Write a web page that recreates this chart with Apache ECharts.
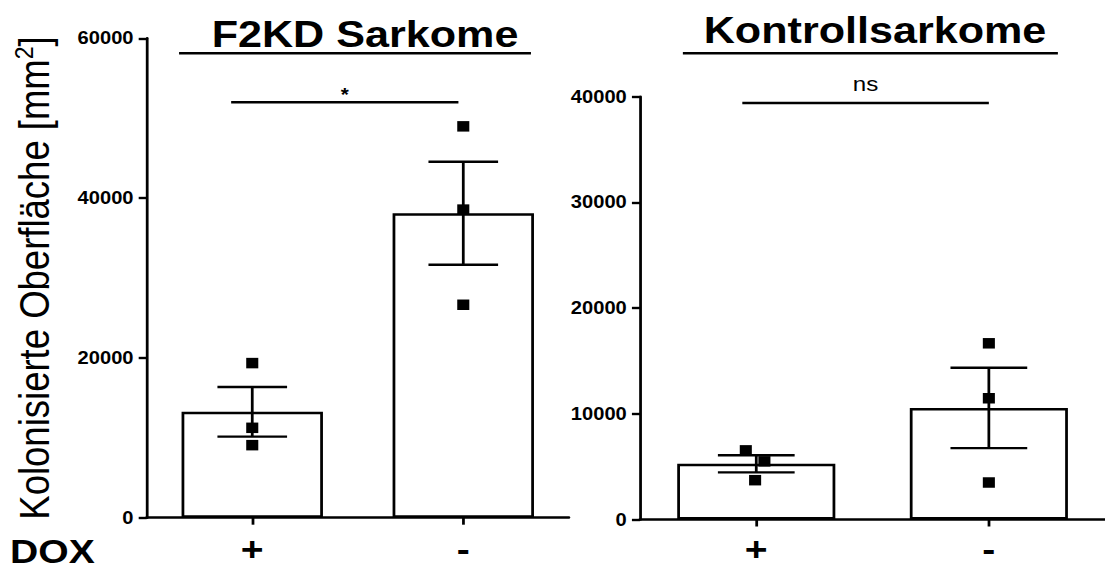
<!DOCTYPE html>
<html>
<head>
<meta charset="utf-8">
<script src="https://cdn.jsdelivr.net/npm/echarts@6/dist/echarts.min.js"></script>
<style>
  html, body { margin: 0; padding: 0; background: #fff; overflow: hidden; width: 1105px; height: 569px; }
  /* the figure is laid out narrow and widened horizontally */
  #chart { width: 961px; height: 569px; transform: scaleX(1.15); transform-origin: 0 0; }
</style>
</head>
<body>
<div id="chart"></div>
<script>
// DOX groups (x positions 0 and 1 on each panel)
const groups = ['+', '-'];

// F2KD sarcomas: mean, SEM and single animals
const f2kdMean = [13250, 38100];
const f2kdSem = [3100, 6450];
const f2kdPoints = [[0, 19350], [0, 11250], [0, 9080], [1, 48980], [1, 38560], [1, 26650]];
const f2kdBracket = [-0.1, 0.977, 52000];
const f2kdStar = '*';

// control sarcomas
const ctrlMean = [5270, 10550];
const ctrlSem = [810, 3800];
const ctrlPoints = [[-0.045, 6540], [0.035, 5500], [-0.005, 3720], [1, 16670], [1, 11470], [1, 3500]];
const ctrlBracket = [-0.06, 1.0, 39400];
const ctrlStar = 'ns';

// y axis ranges
const f2kdAxis = [0, 60000, 20000];
const ctrlAxis = [0, 40000, 10000];

const FONT = '"Liberation Sans", Arial, Helvetica, sans-serif';
const BLACK = '#000';

const leftGrid = { left: 127.6, top: 38.3, width: 367, height: 479.4 };
const rightGrid = { left: 556.5, top: 96.7, width: 410.4, height: 422.8 };
const BAR_FRACTION = 0.67;
const CAP_FRACTION = 0.33;
const GROUP_LABEL_Y = 549.5;

function errRender(params, api) {
  const x = api.value(0), m = api.value(1), s = api.value(2);
  const hi = api.coord([x, m + s]);
  const lo = api.coord([x, m - s]);
  const half = api.size([CAP_FRACTION, 0])[0] / 2;
  const st = { stroke: BLACK, lineWidth: 2.4 };
  return {
    type: 'group',
    children: [
      { type: 'line', shape: { x1: hi[0], y1: hi[1], x2: lo[0], y2: lo[1] }, style: st },
      { type: 'line', shape: { x1: hi[0] - half, y1: hi[1], x2: hi[0] + half, y2: hi[1] }, style: st },
      { type: 'line', shape: { x1: lo[0] - half, y1: lo[1], x2: lo[0] + half, y2: lo[1] }, style: st }
    ]
  };
}

function bracketRender(text, fontSize, weight, lift) {
  return function (params, api) {
    const a = api.coord([api.value(0), api.value(2)]);
    const b = api.coord([api.value(1), api.value(2)]);
    return {
      type: 'group',
      children: [
        { type: 'line', shape: { x1: a[0], y1: a[1], x2: b[0], y2: b[1] }, style: { stroke: BLACK, lineWidth: 2.6 } },
        {
          type: 'text',
          x: (a[0] + b[0]) / 2, y: a[1] - lift,
          style: { text: text, fontSize: fontSize, fontWeight: weight, fontFamily: FONT, fill: BLACK, align: 'center', verticalAlign: 'middle' }
        }
      ]
    };
  };
}

function xAxisFor(gridIndex, grid) {
  return {
    type: 'value', gridIndex: gridIndex, min: -0.5, max: 1.5,
    splitLine: { show: false },
    axisLine: { lineStyle: { color: BLACK, width: 2.6 } },
    axisTick: { customValues: [0, 1], length: 7, lineStyle: { color: BLACK, width: 2.4 } },
    axisLabel: {
      customValues: [0, 1],
      formatter: v => groups[Math.round(v)],
      fontSize: 34, fontWeight: 'bold', fontFamily: FONT, color: BLACK,
      lineHeight: 26, verticalAlign: 'middle',
      margin: GROUP_LABEL_Y - (grid.top + grid.height)
    }
  };
}

function yAxisFor(gridIndex, range, extra) {
  return Object.assign({
    type: 'value', gridIndex: gridIndex, min: range[0], max: range[1], interval: range[2],
    splitLine: { show: false },
    axisLine: { show: true, onZero: false, lineStyle: { color: BLACK, width: 2.4 } },
    axisTick: { show: true, length: 7, lineStyle: { color: BLACK, width: 2.4 } },
    axisLabel: { formatter: v => String(v), fontSize: 17.5, fontWeight: 'bold', fontFamily: FONT, color: BLACK, margin: 11.5 }
  }, extra || {});
}

const chart = echarts.init(document.getElementById('chart'), null, { renderer: 'svg' });

const leftUnit = leftGrid.width / 2;
const rightUnit = rightGrid.width / 2;

chart.setOption({
  backgroundColor: '#fff',
  animation: false,
  grid: [leftGrid, rightGrid],
  xAxis: [xAxisFor(0, leftGrid), xAxisFor(1, rightGrid)],
  yAxis: [
    yAxisFor(0, f2kdAxis, {
      name: '{t|Kolonisierte Oberfläche [mm}{s|2}{t|]}',
      nameLocation: 'middle',
      nameRotate: 90,
      nameGap: 78,
      nameTextStyle: {
        rich: {
          t: { fontSize: 36.5, fontFamily: FONT, color: BLACK, lineHeight: 40 },
          s: { fontSize: 23, fontFamily: FONT, color: BLACK, lineHeight: 23, verticalAlign: 'top' }
        }
      }
    }),
    yAxisFor(1, ctrlAxis)
  ],
  graphic: [
    { type: 'text', x: 317.4, y: 33.7, style: { text: 'F2KD Sarkome', fontSize: 37.5, fontWeight: 'bold', fontFamily: FONT, fill: BLACK, align: 'center', verticalAlign: 'middle' } },
    { type: 'line', shape: { x1: 155.7, y1: 53.3, x2: 461.7, y2: 53.3 }, style: { stroke: BLACK, lineWidth: 2.6 } },
    { type: 'text', x: 760.9, y: 29.7, style: { text: 'Kontrollsarkome', fontSize: 37.5, fontWeight: 'bold', fontFamily: FONT, fill: BLACK, align: 'center', verticalAlign: 'middle' } },
    { type: 'line', shape: { x1: 593.8, y1: 53.3, x2: 919.9, y2: 53.3 }, style: { stroke: BLACK, lineWidth: 2.6 } },
    { type: 'text', x: 8.7, y: 551, style: { text: 'DOX', fontSize: 34, fontWeight: 'bold', fontFamily: FONT, fill: BLACK, align: 'left', verticalAlign: 'middle', lineHeight: 26 } }
  ],
  series: [
    {
      type: 'bar', xAxisIndex: 0, yAxisIndex: 0,
      data: f2kdMean.map((v, i) => [i, v]),
      barWidth: BAR_FRACTION * leftUnit,
      itemStyle: { color: '#fff', borderColor: BLACK, borderWidth: 2.4 },
      z: 1
    },
    {
      type: 'custom', xAxisIndex: 0, yAxisIndex: 0,
      data: f2kdMean.map((v, i) => [i, v, f2kdSem[i]]),
      renderItem: errRender, z: 3
    },
    {
      type: 'scatter', xAxisIndex: 0, yAxisIndex: 0,
      data: f2kdPoints, symbol: 'rect', symbolSize: 10.5,
      itemStyle: { color: BLACK, opacity: 1 }, z: 4
    },
    {
      type: 'custom', xAxisIndex: 0, yAxisIndex: 0,
      data: [f2kdBracket],
      renderItem: bracketRender(f2kdStar, 18, 'bold', 8), z: 3
    },
    {
      type: 'bar', xAxisIndex: 1, yAxisIndex: 1,
      data: ctrlMean.map((v, i) => [i, v]),
      barWidth: BAR_FRACTION * rightUnit,
      itemStyle: { color: '#fff', borderColor: BLACK, borderWidth: 2.4 },
      z: 1
    },
    {
      type: 'custom', xAxisIndex: 1, yAxisIndex: 1,
      data: ctrlMean.map((v, i) => [i, v, ctrlSem[i]]),
      renderItem: errRender, z: 3
    },
    {
      type: 'scatter', xAxisIndex: 1, yAxisIndex: 1,
      data: ctrlPoints, symbol: 'rect', symbolSize: 10.5,
      itemStyle: { color: BLACK, opacity: 1 }, z: 4
    },
    {
      type: 'custom', xAxisIndex: 1, yAxisIndex: 1,
      data: [ctrlBracket],
      renderItem: bracketRender(ctrlStar, 21, 'normal', 19), z: 3
    }
  ]
});
</script>
</body>
</html>
